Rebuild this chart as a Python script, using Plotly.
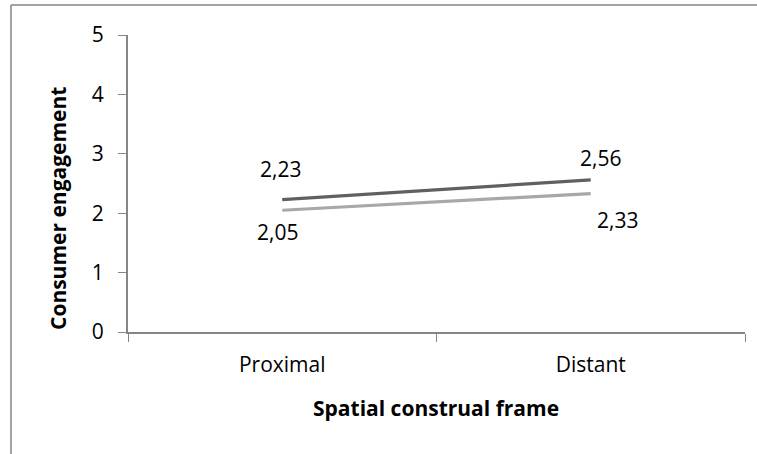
import plotly.graph_objects as go

categories = ["Proximal", "Distant"]
series_dark = [2.23, 2.56]
series_light = [2.05, 2.33]
y_ticks = [0, 1, 2, 3, 4, 5]

FONT = "Open Sans"
AX = "#868686"

fig = go.Figure()
fig.add_trace(go.Scatter(x=categories, y=series_dark, mode="lines",
                         line=dict(color="#606060", width=3.2), showlegend=False))
fig.add_trace(go.Scatter(x=categories, y=series_light, mode="lines",
                         line=dict(color="#a8a8a8", width=3.2), showlegend=False))

def lab(x, y, dx, dy):
    fig.add_annotation(x=x, y=y, text=f"{y:.2f}".replace(".", ","), showarrow=False,
                       xshift=dx, yshift=dy, font=dict(family=FONT, size=21, color="black"))

lab(categories[0], series_dark[0], -2, 31)
lab(categories[0], series_light[0], -5, -22)
lab(categories[1], series_dark[1], 10, 22)
lab(categories[1], series_light[1], 27, -26)

# axis titles
fig.add_annotation(xref="paper", yref="paper", x=(436 - 128) / 617, y=(332 - 408) / 297,
                   xanchor="center", yanchor="middle",
                   text="<b>Spatial construal frame</b>", showarrow=False,
                   font=dict(family=FONT, size=21, color="black"))
fig.add_annotation(xref="paper", yref="paper", x=(58 - 128) / 617, y=(332 - 209) / 297,
                   xanchor="center", yanchor="middle",
                   text="<b>Consumer engagement</b>", showarrow=False, textangle=-90,
                   font=dict(family=FONT, size=21, color="black"))

fig.update_layout(
    width=757, height=454,
    margin=dict(l=128, r=12, t=35, b=122),
    plot_bgcolor="white", paper_bgcolor="white",
    font=dict(family=FONT, size=21, color="black"),
    xaxis=dict(type="category", range=[-0.5, 1.5], showline=True, linecolor=AX, linewidth=2,
               ticks="outside", tickson="boundaries", ticklen=8, tickcolor=AX,
               showgrid=False, zeroline=False, ticklabelstandoff=13, automargin=False),
    yaxis=dict(range=[0, 5], tickvals=y_ticks, showline=True, linecolor=AX, linewidth=2,
               ticks="outside", ticklen=8, tickcolor=AX, showgrid=False, zeroline=False,
               ticklabelstandoff=10, automargin=False),
    shapes=[
        dict(type="line", xref="paper", yref="paper", x0=(11 - 128) / 617, x1=1.05,
             y0=(332 - 5) / 297, y1=(332 - 5) / 297, line=dict(color=AX, width=1.5)),
        dict(type="line", xref="paper", yref="paper", x0=(11 - 128) / 617, x1=(11 - 128) / 617,
             y0=(332 - 5) / 297, y1=-0.45, line=dict(color=AX, width=1.5)),
    ],
)

fig.write_html("out.html", config={"displayModeBar": False},
               post_script="document.body.style.margin='0';")
